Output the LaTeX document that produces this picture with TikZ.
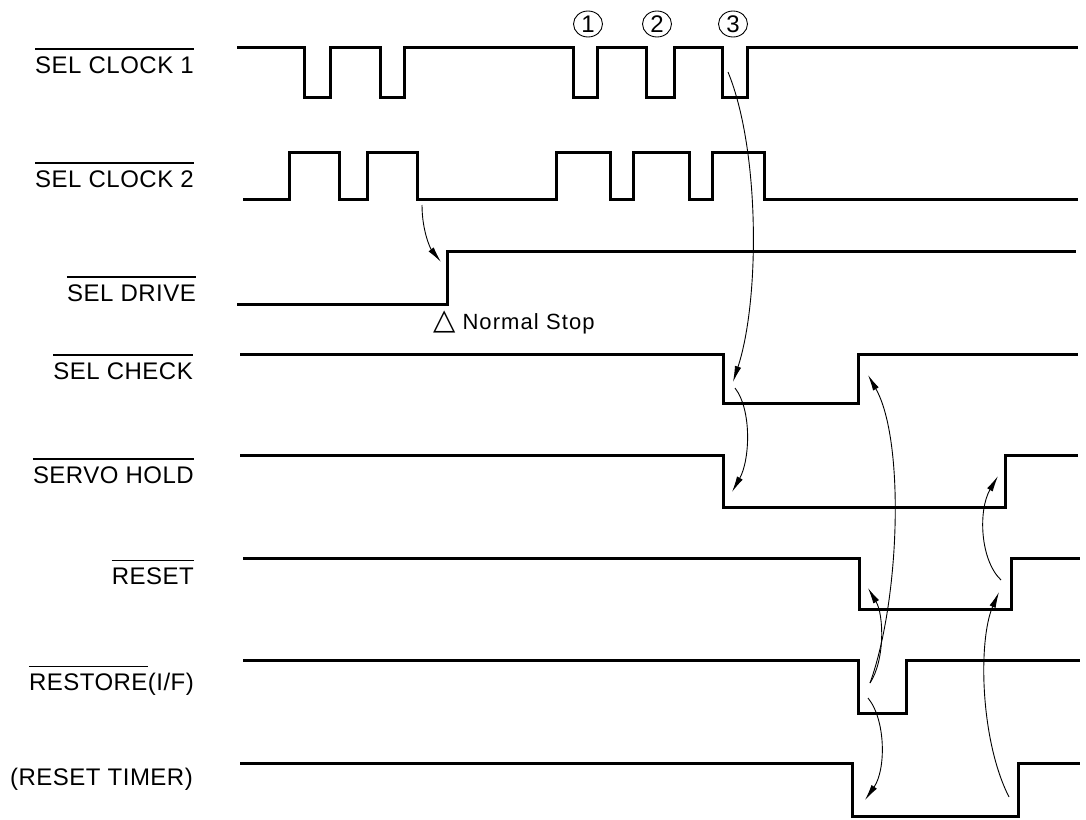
\documentclass[tikz,border=0pt]{standalone}
\usepackage{fontspec}
\setmainfont{Liberation Sans}
\newfontfamily\dejavu{DejaVu Sans}
\usetikzlibrary{arrows.meta,shapes.geometric}
\tikzset{
  wave/.style={line width=3pt, line join=miter},
  cause/.style={line width=0.9pt, -{Latex[length=16pt,width=6.5pt]}},
  lab/.style={inner sep=0pt, anchor=base east, font=\fontsize{24}{24}\selectfont\addfontfeatures{LetterSpace=2}},
  ovl/.style={line width=1.1pt},
  num/.style={ellipse, draw, line width=0.9pt, minimum width=29pt, minimum height=26pt, inner sep=0pt, font=\fontsize{24}{24}\selectfont},
}
\begin{document}
\begin{tikzpicture}[x=1pt,y=-1pt]
\useasboundingbox (0,0) rectangle (1086,819);

% labels
\node[lab] (l1) at (194,73) {SEL CLOCK 1};
\node[lab] (l2) at (194,187) {SEL CLOCK 2};
\node[lab] (l3) at (196,301) {SEL DRIVE};
\node[lab] (l4) at (193,379) {SEL CHECK};
\node[lab] (l5) at (194,483) {SERVO HOLD};
\node[lab] (l6) at (194,584) {RESET};
\node[lab] (l7b) at (194,690) {(I/F)};
\node[lab] (l7a) at (l7b.base west) {RESTORE};
\node[lab] (l8) at (193,785) {(RESET TIMER)};

\foreach \n in {l1,l2,l3,l4,l5,l6,l7a}
  \draw[ovl] ([yshift=7pt]\n.north west) -- ([yshift=7pt]\n.north east);

% circled numbers
\node[num] (c1) at (588,24) {1};
\node[num] (c2) at (657,24) {2};
\node[num] (c3) at (733,24) {3};

% waveforms
\draw[wave] (237,47) -| (304,97) -| (330,47) -| (380,97) -| (404,47) -| (573,97) -| (597,47) -| (646,97) -| (674,47) -| (722,97) -| (747,47) -- (1078,47);
\draw[wave] (243,199) -| (289,152) -| (339,199) -| (367,152) -| (417,199) -| (556,152) -| (610,199) -| (633,152) -| (689,199) -| (712,152) -| (764,199) -- (1078,199);
\draw[wave] (237,304) -| (447,251) -- (1076,251);
\draw[wave] (240,354) -| (723,403) -| (858,354) -- (1078,354);
\draw[wave] (240,455) -| (723,507) -| (1005,455) -- (1078,455);
\draw[wave] (243,558) -| (859,609) -| (1011,558) -- (1080,558);
\draw[wave] (243,660) -| (858,713) -| (906,660) -- (1080,660);
\draw[wave] (240,763) -| (852,816) -| (1018,763) -- (1080,763);

% normal stop
\node[inner sep=0pt, anchor=base west, font=\fontsize{22}{22}\selectfont] (ns) at (433,329)
  {{\dejavu\fontsize{29}{29}\selectfont △}\hspace{7pt}\addfontfeatures{LetterSpace=5}Normal Stop};

% cause arrows
\coordinate (a1s) at (422,205); \coordinate (a1e) at (441,262);
\coordinate (a2s) at (728,72);  \coordinate (a2e) at (733,382);
\coordinate (a3s) at (735,388); \coordinate (a3e) at (732,492);
\coordinate (a4s) at (870,683); \coordinate (a4e) at (868,375);
\coordinate (a5e) at (868,588);
\coordinate (a6s) at (868,698); \coordinate (a6e) at (865,800);
\coordinate (a7s) at (1001,580); \coordinate (a7e) at (998,476);
\coordinate (a8s) at (1009,797); \coordinate (a8e) at (999,592);

\draw[cause] (a1s) .. controls (422,230) and (430,248) .. (a1e);
\draw[cause] (a2s) .. controls (760,150) and (760,300) .. (a2e);
\draw[cause] (a3s) .. controls (752,410) and (750,460) .. (a3e);
\draw[cause] (a4s) .. controls (900,600) and (905,440) .. (a4e);
\draw[cause] (a4s) .. controls (885,660) and (884,615) .. (a5e);
\draw[cause] (a6s) .. controls (886,720) and (886,770) .. (a6e);
\draw[cause] (a7s) .. controls (980,560) and (978,510) .. (a7e);
\draw[cause] (a8s) .. controls (980,740) and (978,640) .. (a8e);
\end{tikzpicture}
\end{document}
